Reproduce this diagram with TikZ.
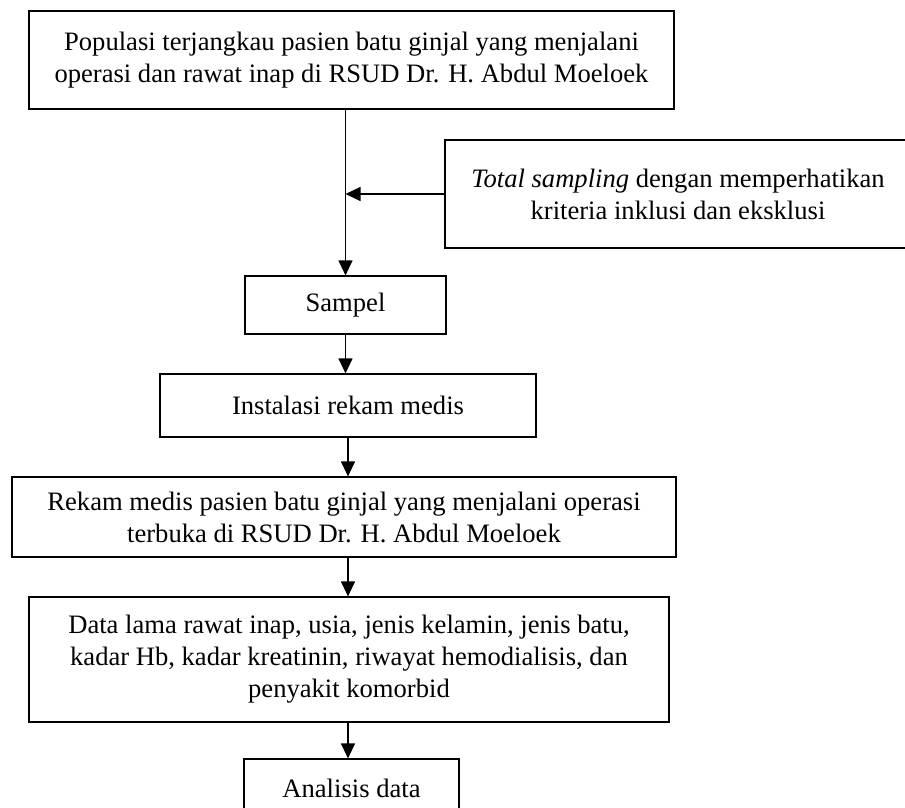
\documentclass[tikz,border=0pt]{standalone}
\usepackage{fontspec}
\setmainfont{Liberation Serif}
\usetikzlibrary{arrows.meta}
\begin{document}
\begin{tikzpicture}[x=1pt,y=-1pt,
  box/.style={draw=black,line width=1.2pt,inner sep=0pt,align=center,font=\fontsize{26.6}{32}\selectfont},
  arr/.style={draw=black,line width=1.2pt,-{Triangle[length=15pt,width=14pt]}}]
\useasboundingbox (0,0) rectangle (905,807);
\node[box,minimum width=645pt,minimum height=98pt] (b1) at (351.5,60)
  {Populasi terjangkau pasien batu ginjal yang menjalani\\operasi dan rawat inap di RSUD Dr. H. Abdul Moeloek};
\node[box,minimum width=466pt,minimum height=108pt] (ts) at (678,194)
  {\textit{Total sampling} dengan memperhatikan\\kriteria inklusi dan eksklusi};
\node[box,minimum width=201pt,minimum height=58pt] (sam) at (345.5,305) {Sampel};
\node[box,minimum width=376pt,minimum height=63pt] (ins) at (348,405.5) {Instalasi rekam medis};
\node[box,minimum width=664pt,minimum height=80pt] (rek) at (344,517)
  {Rekam medis pasien batu ginjal yang menjalani operasi\\terbuka di RSUD Dr. H. Abdul Moeloek};
\node[box,minimum width=640pt,minimum height=125pt] (dat) at (349,659.5)
  {Data lama rawat inap, usia, jenis kelamin, jenis batu,\\kadar Hb, kadar kreatinin, riwayat hemodialisis, dan\\penyakit komorbid};
\node[box,minimum width=215pt,minimum height=58pt] (ana) at (351.5,788) {Analisis data};
\draw[arr] (b1.south -| sam) -- (sam.north);
\draw[arr] (ts.west) -- (ts.west -| sam);
\draw[arr] (sam.south) -- (sam.south |- ins.north);
\draw[arr] (ins.south) -- (ins.south |- rek.north);
\draw[arr] (rek.south -| ins) -- (ins |- dat.north);
\draw[arr] (dat.south -| ins) -- (ins |- ana.north);
\end{tikzpicture}
\end{document}
